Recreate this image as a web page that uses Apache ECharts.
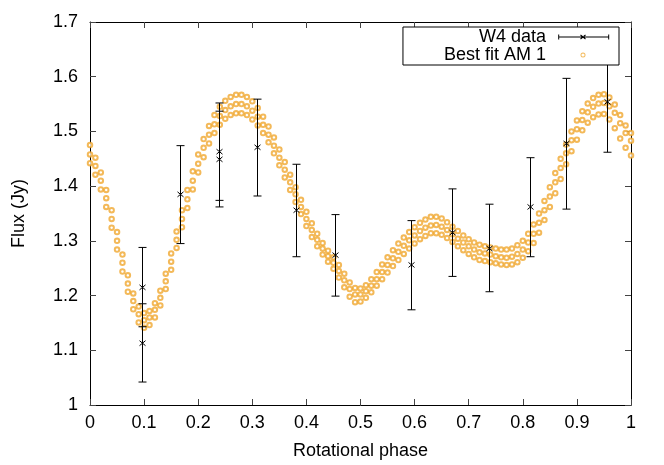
<!DOCTYPE html>
<html>
<head>
<meta charset="utf-8">
<script src="https://cdn.jsdelivr.net/npm/echarts@6/dist/echarts.min.js"></script>
<style>
  html, body { margin: 0; padding: 0; background: #fff; }
  #chart { width: 664px; height: 465px; }
</style>
</head>
<body>
<div id="chart"></div>
<script>
// observed W4 points (phase, flux, bar bottom, bar top)
const obsPhase = [0.097, 0.097, 0.167, 0.239, 0.239, 0.309, 0.380, 0.453, 0.594, 0.670, 0.737, 0.813, 0.879, 0.955];
const obsFlux  = [1.215, 1.113, 1.385, 1.463, 1.449, 1.471, 1.356, 1.274, 1.256, 1.315, 1.286, 1.362, 1.478, 1.554];
const obsLow   = [1.143, 1.042, 1.295, 1.374, 1.362, 1.382, 1.271, 1.199, 1.174, 1.235, 1.207, 1.271, 1.358, 1.462];
const obsHigh  = [1.288, 1.185, 1.474, 1.552, 1.537, 1.559, 1.440, 1.348, 1.337, 1.395, 1.367, 1.452, 1.597, 1.646];

// best fit model, sampled every 0.01 in phase (three curves)
const fitStep = 0.01;
const fitUpper = [
  1.475, 1.452, 1.425, 1.393, 1.356, 1.316, 1.275, 1.237, 1.204, 1.180,
  1.168, 1.172, 1.186, 1.209, 1.240, 1.277, 1.317, 1.356, 1.393, 1.427,
  1.458, 1.486, 1.510, 1.530, 1.545, 1.556, 1.563, 1.567, 1.567, 1.563,
  1.555, 1.543, 1.527, 1.509, 1.489, 1.467, 1.444, 1.421, 1.398, 1.375,
  1.353, 1.332, 1.313, 1.296, 1.282, 1.270, 1.256, 1.240, 1.224, 1.214,
  1.213, 1.219, 1.230, 1.243, 1.257, 1.270, 1.283, 1.295, 1.306, 1.316,
  1.325, 1.333, 1.339, 1.344, 1.344, 1.341, 1.334, 1.326, 1.318, 1.310,
  1.303, 1.297, 1.293, 1.290, 1.288, 1.286, 1.284, 1.284, 1.286, 1.292,
  1.300, 1.313, 1.330, 1.350, 1.373, 1.398, 1.424, 1.450, 1.476, 1.500,
  1.520, 1.537, 1.551, 1.561, 1.567, 1.568, 1.562, 1.549, 1.530, 1.511,
  1.497
];
const fitMid = [
  1.458, 1.437, 1.410, 1.378, 1.340, 1.300, 1.260, 1.222, 1.190, 1.166,
  1.155, 1.160, 1.174, 1.196, 1.226, 1.262, 1.302, 1.340, 1.376, 1.410,
  1.441, 1.470, 1.494, 1.513, 1.528, 1.539, 1.546, 1.550, 1.550, 1.546,
  1.538, 1.527, 1.512, 1.494, 1.474, 1.452, 1.430, 1.407, 1.385, 1.362,
  1.340, 1.320, 1.302, 1.286, 1.272, 1.260, 1.245, 1.228, 1.212, 1.202,
  1.202, 1.208, 1.218, 1.230, 1.243, 1.256, 1.268, 1.280, 1.291, 1.301,
  1.310, 1.318, 1.324, 1.328, 1.329, 1.326, 1.320, 1.312, 1.304, 1.297,
  1.290, 1.284, 1.279, 1.277, 1.275, 1.272, 1.270, 1.269, 1.271, 1.276,
  1.284, 1.297, 1.313, 1.333, 1.356, 1.381, 1.407, 1.433, 1.460, 1.484,
  1.504, 1.521, 1.535, 1.545, 1.551, 1.552, 1.546, 1.534, 1.515, 1.497,
  1.483
];
const fitLower = [
  1.442, 1.421, 1.394, 1.362, 1.324, 1.284, 1.244, 1.207, 1.175, 1.151,
  1.141, 1.146, 1.160, 1.182, 1.212, 1.247, 1.287, 1.325, 1.360, 1.394,
  1.425, 1.453, 1.478, 1.497, 1.512, 1.523, 1.530, 1.533, 1.533, 1.530,
  1.522, 1.511, 1.497, 1.480, 1.460, 1.438, 1.416, 1.393, 1.371, 1.349,
  1.327, 1.307, 1.290, 1.275, 1.262, 1.249, 1.233, 1.215, 1.198, 1.188,
  1.189, 1.196, 1.206, 1.218, 1.230, 1.242, 1.254, 1.265, 1.276, 1.286,
  1.295, 1.303, 1.309, 1.314, 1.314, 1.311, 1.305, 1.298, 1.290, 1.283,
  1.276, 1.270, 1.265, 1.263, 1.261, 1.259, 1.257, 1.256, 1.257, 1.261,
  1.269, 1.281, 1.296, 1.315, 1.338, 1.362, 1.387, 1.413, 1.440, 1.464,
  1.485, 1.502, 1.516, 1.526, 1.531, 1.532, 1.522, 1.506, 1.487, 1.470,
  1.456
];

const FONT = 'Liberation Sans, Arial, sans-serif';
const ORANGE = '#f0a830';

function fitSeries(values) {
  return {
    type: 'scatter',
    name: 'Best fit AM 1',
    symbol: 'emptyCircle',
    symbolSize: 4.5,
    itemStyle: { color: ORANGE, borderColor: ORANGE, borderWidth: 1 },
    data: values.map((v, i) => [+(i * fitStep).toFixed(2), v]),
    silent: true,
    z: 2
  };
}

// legend icons, drawn in a 62x10 box
const errIcon = 'path://M0,0L0,0Z M62,10L62,10Z ' +
  'M7.7,4.5L57.7,4.5L57.7,5.5L7.7,5.5Z ' +
  'M7.2,2.5L8.2,2.5L8.2,7.5L7.2,7.5Z ' +
  'M57.2,2.5L58.2,2.5L58.2,7.5L57.2,7.5Z ' +
  'M29.2,3.4L29.8,2.6L34.8,6.6L34.2,7.4Z ' +
  'M29.2,6.6L29.8,7.4L34.8,3.4L34.2,2.6Z';
const dotIcon = 'path://M0,0L0,0Z M62,10L62,10Z ' +
  'M29.5,5A2.5,2.5 0 1,1 34.5,5A2.5,2.5 0 1,1 29.5,5Z ' +
  'M30.4,5A1.6,1.6 0 1,0 33.6,5A1.6,1.6 0 1,0 30.4,5Z';

const axisCommon = {
  type: 'value',
  axisLine: { show: true, onZero: false, lineStyle: { color: '#000', width: 1 } },
  axisTick: { show: true, inside: true, length: 6, lineStyle: { color: '#444' } },
  splitLine: { show: false }
};

const chart = echarts.init(document.getElementById('chart'));
chart.setOption({
  animation: false,
  backgroundColor: '#fff',
  textStyle: { fontFamily: FONT },
  grid: { left: 90, right: 33, top: 22, bottom: 59 },
  legend: {
    orient: 'vertical',
    right: 45,
    top: 27,
    align: 'right',
    itemWidth: 62,
    itemHeight: 10,
    itemGap: 0,
    padding: [1, 6, 1, 41],
    backgroundColor: '#fff',
    borderColor: '#000',
    borderWidth: 1,
    borderRadius: 0,
    textStyle: { fontSize: 18, color: '#000', fontFamily: FONT },
    data: [
      { name: 'W4 data', icon: errIcon, itemStyle: { color: '#000', borderWidth: 0 } },
      { name: 'Best fit AM 1', icon: dotIcon, itemStyle: { color: ORANGE, borderWidth: 0 } }
    ],
    selectedMode: false
  },
  xAxis: [
    Object.assign({}, axisCommon, {
      min: 0, max: 1, interval: 0.1, position: 'bottom',
      axisLabel: { fontSize: 18, color: '#000', margin: 9, fontFamily: FONT },
      name: 'Rotational phase', nameLocation: 'middle', nameGap: 37,
      nameTextStyle: { fontSize: 18, color: '#000', fontFamily: FONT }
    }),
    Object.assign({}, axisCommon, {
      min: 0, max: 1, interval: 0.1, position: 'top',
      axisLabel: { show: false }
    })
  ],
  yAxis: [
    Object.assign({}, axisCommon, {
      min: 1, max: 1.7, interval: 0.1, position: 'left',
      axisLabel: { fontSize: 18, color: '#000', margin: 12, fontFamily: FONT },
      name: 'Flux (Jy)', nameLocation: 'middle', nameGap: 62,
      nameTextStyle: { fontSize: 18, color: '#000', fontFamily: FONT }
    }),
    Object.assign({}, axisCommon, {
      min: 1, max: 1.7, interval: 0.1, position: 'right',
      axisLabel: { show: false }
    })
  ],
  series: [
    fitSeries(fitUpper),
    fitSeries(fitMid),
    fitSeries(fitLower),
    {
      type: 'custom',
      name: 'W4 data',
      data: obsPhase.map((p, i) => [p, obsFlux[i], obsLow[i], obsHigh[i]]),
      encode: { x: 0, y: [1, 2, 3] },
      z: 3,
      silent: true,
      renderItem(params, api) {
        const c = api.coord([api.value(0), api.value(1)]);
        const lo = api.coord([api.value(0), api.value(2)]);
        const hi = api.coord([api.value(0), api.value(3)]);
        const x = Math.round(c[0]) + 0.5;
        const st = { stroke: '#000', lineWidth: 1 };
        return {
          type: 'group',
          children: [
            { type: 'line', shape: { x1: x, y1: lo[1], x2: x, y2: hi[1] }, style: st },
            { type: 'line', shape: { x1: x - 4, y1: lo[1], x2: x + 4, y2: lo[1] }, style: st },
            { type: 'line', shape: { x1: x - 4, y1: hi[1], x2: x + 4, y2: hi[1] }, style: st },
            { type: 'line', shape: { x1: x - 3, y1: c[1] - 2.5, x2: x + 3, y2: c[1] + 2.5 }, style: st },
            { type: 'line', shape: { x1: x - 3, y1: c[1] + 2.5, x2: x + 3, y2: c[1] - 2.5 }, style: st }
          ]
        };
      }
    }
  ]
});
</script>
</body>
</html>
